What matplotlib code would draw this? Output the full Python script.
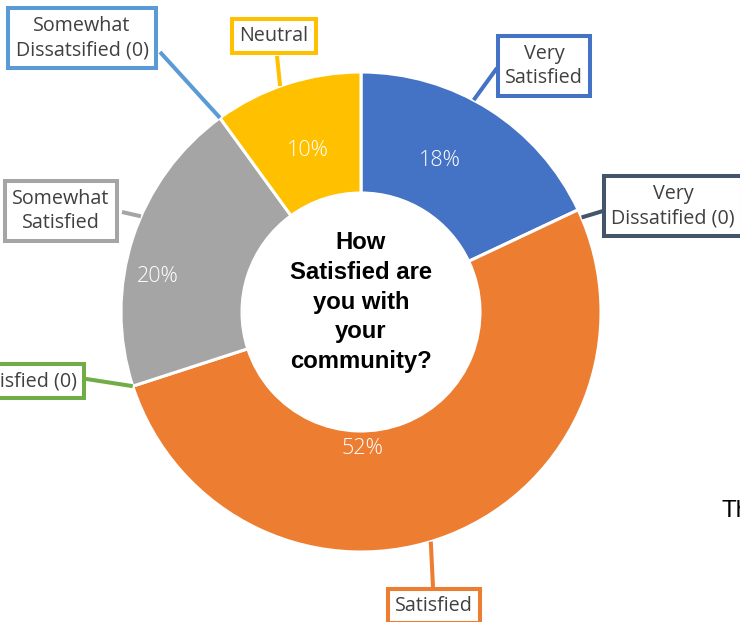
import numpy as np
import matplotlib
matplotlib.use("Agg")
import matplotlib.pyplot as plt

# ---- data ----
categories = ["Very Satisfied", "Very Dissatified (0)", "Satisfied", "Dissatisfied (0)",
              "Somewhat Satisfied", "Somewhat Dissatsified (0)", "Neutral"]
label_text = ["Very\nSatisfied", "Very\nDissatified (0)", "Satisfied", "Dissatisfied (0)",
              "Somewhat\nSatisfied", "Somewhat\nDissatsified (0)", "Neutral"]
values = [18, 0, 52, 0, 20, 0, 10]
colors = ["#4472C4", "#44546A", "#ED7D31", "#70AD47", "#A5A5A5", "#5B9BD5", "#FFC000"]
center_title = "How\nSatisfied are\nyou with\nyour\ncommunity?"

# ---- layout (pixel coordinates, y downwards) ----
W, H = 740, 622
CX, CY, R, RIN = 361, 312, 240, 119
label_box_pos = [(544, 66), (673, 206), (434, 606), (10, 381),
                 (61, 211), (82, 38), (274, 36)]
label_attach = [(497, 68), (603, 211), (433, 587), (80, 378),
                (122, 212), (160, 52), (277, 56)]
leader_offset = [4.4, -2.0, -4.7, 0.0, -5.5, 0.0, 1.7]
pct_pos = {0: (440, 160), 2: (362, 448), 4: (158, 277), 6: (308, 150)}

fig = plt.figure(figsize=(W / 100, H / 100), dpi=100)
ax = fig.add_axes([0, 0, 1, 1])

def py(y):
    return H - y

nz = [i for i, v in enumerate(values) if v > 0]
ax.pie([values[i] for i in nz], colors=[colors[i] for i in nz], startangle=90,
       counterclock=False, center=(CX, py(CY)), radius=R, frame=True,
       wedgeprops=dict(width=R - RIN, edgecolor="white", linewidth=2.2))
ax.set_xlim(0, W)
ax.set_ylim(0, H)
ax.axis("off")

# angles
total = sum(values)
cum = 0
mid_angles = []
for v in values:
    a0 = 90 - 360 * cum / total
    a1 = 90 - 360 * (cum + v) / total
    mid_angles.append((a0 + a1) / 2)
    cum += v

font = ["Open Sans", "DejaVu Sans"]
for i, lab in enumerate(label_text):
    ang = np.deg2rad(mid_angles[i] + leader_offset[i])
    sx = CX + R * np.cos(ang)
    sy = CY - R * np.sin(ang)
    ex, ey = label_attach[i]
    ax.plot([sx, ex], [py(sy), py(ey)], color=colors[i], lw=2.9,
            solid_capstyle="butt", zorder=3)
    bx, by = label_box_pos[i]
    ax.text(bx, py(by), lab, ha="center", va="center", fontsize=14.2,
            family=font, color="#404040", linespacing=1.3, zorder=4,
            bbox=dict(boxstyle="square,pad=0.38", fc="white", ec=colors[i], lw=2.9))

for i, (x, y) in pct_pos.items():
    ax.text(x, py(y), f"{values[i]}%", ha="center", va="center", fontsize=15.5,
            family=font, fontweight="light", color="white", zorder=4)

ax.text(CX, py(CY - 10), center_title, ha="center", va="center", fontsize=17.2,
        family=["Liberation Sans", "DejaVu Sans"], fontweight="bold",
        color="black", linespacing=1.38, zorder=4)

ax.text(722, py(511), "The", ha="left", va="center", fontsize=17.5,
        family=["Liberation Sans", "DejaVu Sans"], color="black")

fig.savefig("out.png", dpi=100)
